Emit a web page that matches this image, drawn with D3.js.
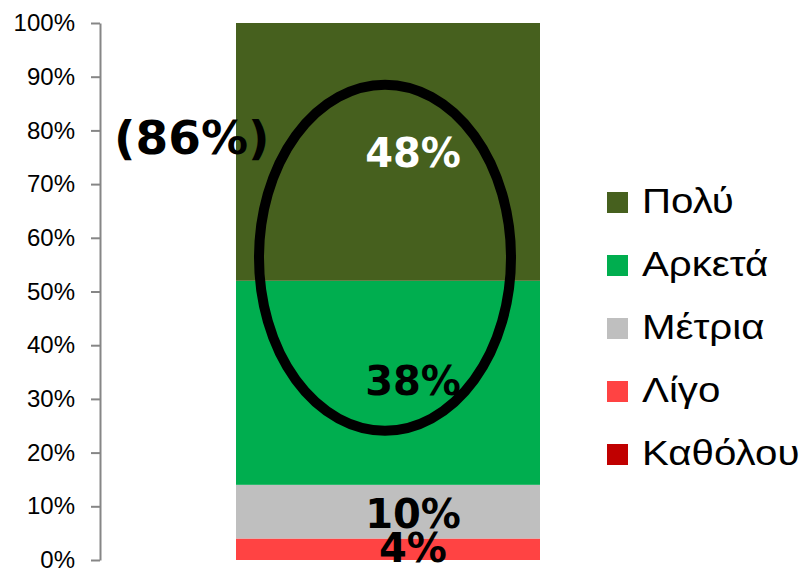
<!DOCTYPE html>
<html>
<head>
<meta charset="utf-8">
<script src="https://cdn.jsdelivr.net/npm/d3@7/dist/d3.min.js"></script>
<style>
  body { margin: 0; background: #fff; }
  svg { display: block; }
</style>
</head>
<body>
<div id="chart"></div>
<script>
// data, bottom to top of the stack
var seriesNames = ['Καθόλου', 'Λίγο', 'Μέτρια', 'Αρκετά', 'Πολύ'];
var seriesValues = [0, 4, 10, 38, 48];
var seriesColors = ['#c00000', '#ff4343', '#bfbfbf', '#00ae4f', '#46601e'];
var labelColors = ['#000', '#000', '#000', '#000', '#fff'];
var yTicks = [0, 10, 20, 30, 40, 50, 60, 70, 80, 90, 100];
var groupNote = '(86%)';

var width = 809, height = 569;
var plotTop = 23, plotBottom = 560, axisX = 100;

var svg = d3.select('#chart').append('svg')
    .attr('width', width)
    .attr('height', height);

var yScale = d3.scaleLinear().domain([0, 100]).range([plotBottom, plotTop]);
var xScale = d3.scaleBand().domain(['q']).range([236, 540]).padding(0);

// stack
var row = {};
seriesNames.forEach(function (n, i) { row[n] = seriesValues[i]; });
var stacked = d3.stack().keys(seriesNames)([row]);

svg.append('g')
    .selectAll('rect')
    .data(stacked)
    .enter()
    .append('rect')
    .attr('x', xScale('q'))
    .attr('width', xScale.bandwidth())
    .attr('y', function (d) { return yScale(d[0][1]); })
    .attr('height', function (d) { return yScale(d[0][0]) - yScale(d[0][1]); })
    .attr('fill', function (d, i) { return seriesColors[i]; });

// y axis
var yAxis = d3.axisLeft(yScale)
    .tickValues(yTicks)
    .tickFormat(function (d) { return d + '%'; })
    .tickSize(9)
    .tickSizeOuter(0)
    .tickPadding(16);

var gy = svg.append('g')
    .attr('transform', 'translate(' + axisX + ',0)')
    .call(yAxis);
gy.select('.domain').attr('stroke', '#868686').attr('stroke-width', 2);
gy.selectAll('.tick line').attr('stroke', '#868686').attr('stroke-width', 2);
gy.selectAll('.tick text')
    .attr('fill', '#000')
    .style('font-family', '"Liberation Sans", Arial, sans-serif')
    .style('font-size', '24px');

// highlight ellipse round the top two segments
var cx = xScale('q') + xScale.bandwidth() / 2 - 3;
svg.append('ellipse')
    .attr('cx', cx)
    .attr('cy', yScale(56.3))
    .attr('rx', 126)
    .attr('ry', 173)
    .attr('fill', 'none')
    .attr('stroke', '#000')
    .attr('stroke-width', 10);

// value labels
var labelX = cx + 28;
var labelOffsets = [0, 13, 16, 0, 0];
svg.append('g')
    .selectAll('text')
    .data(stacked)
    .enter()
    .filter(function (d, i) { return seriesValues[i] > 0; })
    .append('text')
    .attr('x', labelX)
    .attr('y', function (d) {
        var i = seriesNames.indexOf(d.key);
        if (d.key === 'Πολύ') return 167;
        if (d.key === 'Αρκετά') return 395;
        return (yScale(d[0][0]) + yScale(d[0][1])) / 2 + labelOffsets[i];
    })
    .attr('text-anchor', 'middle')
    .attr('fill', function (d) { return labelColors[seriesNames.indexOf(d.key)]; })
    .style('font-family', '"DejaVu Sans", Verdana, sans-serif')
    .style('font-weight', 'bold')
    .style('font-size', '40px')
    .text(function (d) { return seriesValues[seriesNames.indexOf(d.key)] + '%'; });

svg.append('text')
    .attr('x', 114)
    .attr('y', 154)
    .style('font-family', '"DejaVu Sans", Verdana, sans-serif')
    .style('font-weight', 'bold')
    .style('font-size', '47px')
    .attr('fill', '#000')
    .text(groupNote);

// legend, top item first
var legend = svg.append('g').attr('transform', 'translate(607,192)');
var legendItems = seriesNames.slice().reverse();
var item = legend.selectAll('g')
    .data(legendItems)
    .enter()
    .append('g')
    .attr('transform', function (d, i) { return 'translate(0,' + i * 63 + ')'; });
item.append('rect')
    .attr('width', 21)
    .attr('height', 21)
    .attr('fill', function (d) { return seriesColors[seriesNames.indexOf(d)]; });
item.append('text')
    .attr('transform', 'translate(35,21) scale(1.15,1)')
    .attr('fill', '#000')
    .style('font-family', '"Liberation Sans", Arial, sans-serif')
    .style('font-size', '35px')
    .text(function (d) { return d; });
</script>
</body>
</html>
